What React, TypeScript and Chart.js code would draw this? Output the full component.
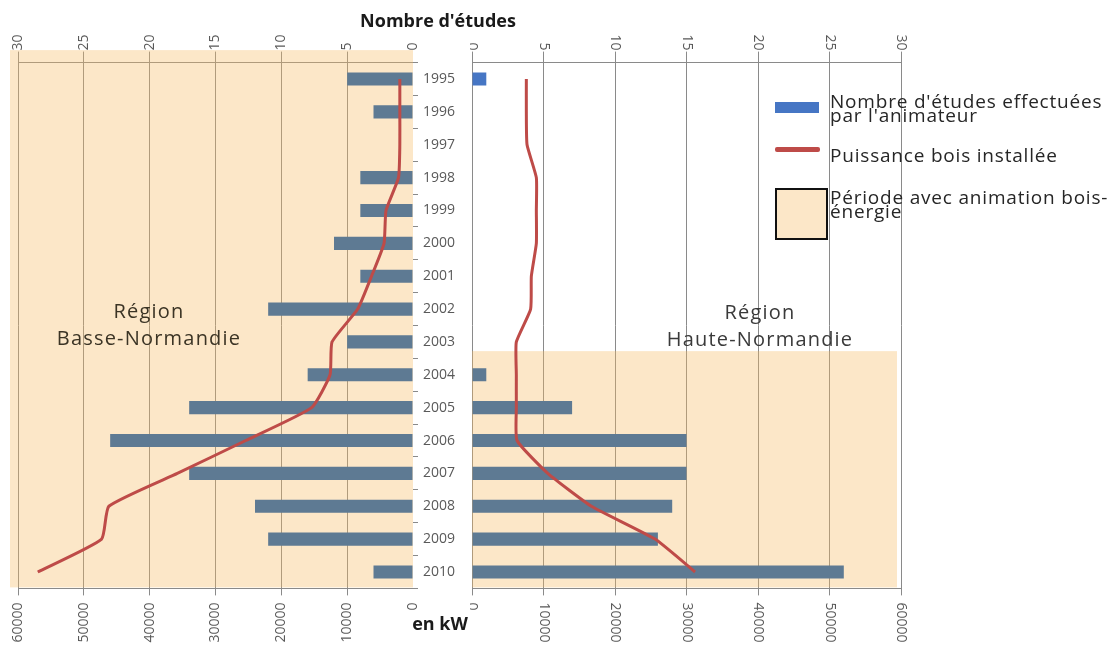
import React, { useEffect, useRef } from 'react';
import { Chart, registerables } from 'chart.js';

Chart.register(...registerables);

// ---------- data ----------
const YEARS = ['1995', '1996', '1997', '1998', '1999', '2000', '2001', '2002', '2003', '2004', '2005', '2006', '2007', '2008', '2009', '2010'];
// Basse-Normandie (left panel)
const BN_STUDIES = [5, 3, 0, 4, 4, 6, 4, 11, 5, 8, 17, 23, 17, 12, 11, 3];
const BN_POWER_KW = [2000, 2000, 2000, 2200, 4100, 4400, 6300, 8400, 12300, 12600, 15400, 25400, 35800, 46200, 47300, 57000];
// Haute-Normandie (right panel)
const HN_STUDIES = [1, 0, 0, 0, 0, 0, 0, 0, 0, 1, 7, 15, 15, 14, 13, 26];
const HN_POWER_KW = [7600, 7600, 7700, 9000, 9000, 9000, 8300, 8200, 6200, 6200, 6200, 6300, 10600, 16700, 25600, 31200];
// animation periods (first year of the shaded period)
const BN_PERIOD_START = '1995';
const HN_PERIOD_START = '2004';
// axes
const STUDIES_MAX = 30;
const STUDIES_STEP = 5;
const KW_MAX = 60000;
const KW_STEP = 10000;

// ---------- styles ----------
const FONT = "'Open Sans', sans-serif";
const GRID = '#8a8a8a';
const TICK_COLOR = '#595959';
const BLUE = '#4676C4';
const SLATE = '#5E7A93';
const RED = '#BE4B48';
const SHADE = 'rgba(246,186,98,0.35)';
const AREA_TOP = 62.6;
const AREA_BOTTOM = 588.4;
const H = 648;

Chart.defaults.font.family = FONT;

function shadePlugin(startLabel: string, topBands: number, extendLeft: number, insetRight: number) {
  return {
    id: 'shade',
    beforeDatasetsDraw(chart: any) {
      const { ctx, chartArea } = chart;
      const y = chart.scales.y;
      const idx = YEARS.indexOf(startLabel);
      const band = y.getPixelForValue(1) - y.getPixelForValue(0);
      const top = y.getPixelForValue(idx) - topBands * band;
      ctx.save();
      ctx.fillStyle = SHADE;
      ctx.fillRect(chartArea.left - extendLeft, top, chartArea.right - insetRight - (chartArea.left - extendLeft), chartArea.bottom - 1 - top);
      ctx.restore();
    },
  };
}

const rotatedTicksPlugin = {
  id: 'rotatedTicks',
  afterDraw(chart: any) {
    const { ctx, chartArea } = chart;
    ctx.save();
    ctx.font = `14px ${FONT}`;
    ctx.fillStyle = TICK_COLOR;
    ctx.textBaseline = 'middle';
    const xb = chart.scales.x;
    xb.ticks.forEach((t: any) => {
      const px = xb.getPixelForValue(t.value);
      ctx.save();
      ctx.translate(px, chartArea.bottom + 14);
      ctx.rotate(Math.PI / 2);
      ctx.textAlign = 'left';
      ctx.fillText(String(t.value), 0, 0);
      ctx.restore();
    });
    const xt = chart.scales.x2;
    xt.ticks.forEach((t: any) => {
      const px = xt.getPixelForValue(t.value);
      ctx.save();
      ctx.translate(px, chartArea.top - 12);
      ctx.rotate(Math.PI / 2);
      ctx.textAlign = 'right';
      ctx.fillText(String(t.value), 0, 0);
      ctx.restore();
    });
    ctx.restore();
  },
};

function datasets(studies: number[], power: number[], startLabel: string) {
  const startIdx = YEARS.indexOf(startLabel);
  return [
    {
      type: 'bar' as const,
      label: "Nombre d'études effectuées par l'animateur",
      data: studies,
      xAxisID: 'x2',
      yAxisID: 'y',
      backgroundColor: (c: any) => (c.dataIndex >= startIdx ? SLATE : BLUE),
      barPercentage: 0.4,
      categoryPercentage: 1,
      order: 2,
    },
    {
      type: 'line' as const,
      label: 'Puissance bois installée',
      data: power,
      xAxisID: 'x',
      yAxisID: 'y',
      indexAxis: 'y' as const,
      borderColor: RED,
      borderWidth: 3,
      pointRadius: 0,
      fill: false,
      tension: 0.15,
      order: 1,
    },
  ];
}

const hideZero = (c: any) => (c.tick && c.tick.value === 0 ? 'rgba(0,0,0,0)' : GRID);

export default function App() {
  const leftRef = useRef<HTMLCanvasElement>(null);
  const rightRef = useRef<HTMLCanvasElement>(null);

  useEffect(() => {
    const tickFont = { family: FONT, size: 14 };
    const left = new Chart(leftRef.current as HTMLCanvasElement, {
      type: 'bar',
      data: { labels: YEARS, datasets: datasets(BN_STUDIES, BN_POWER_KW, BN_PERIOD_START) as any },
      options: {
        indexAxis: 'y',
        responsive: false,
        animation: false,
        layout: { padding: { left: 18, right: 0, top: 0, bottom: 0 } },
        plugins: { legend: { display: false }, tooltip: { enabled: false } },
        scales: {
          x: {
            type: 'linear', position: 'bottom', min: 0, max: KW_MAX, reverse: true,
            ticks: { stepSize: KW_STEP, minRotation: 90, maxRotation: 90, autoSkip: false, padding: 7, font: tickFont, color: TICK_COLOR, callback: (v: any) => String(v) },
            grid: { color: hideZero, tickLength: 7, lineWidth: 1 },
            border: { display: true, color: GRID },
            afterFit: (s: any) => { s.height = H - AREA_BOTTOM; },
          },
          x2: {
            type: 'linear', position: 'top', min: 0, max: STUDIES_MAX, reverse: true,
            ticks: { stepSize: STUDIES_STEP, minRotation: 90, maxRotation: 90, autoSkip: false, padding: 1, labelOffset: 16.8, font: tickFont, color: TICK_COLOR, callback: (v: any) => String(v) },
            grid: { drawOnChartArea: false, color: hideZero, tickLength: 11 },
            border: { display: true, color: GRID },
            afterFit: (s: any) => { s.height = AREA_TOP; },
          },
          y: {
            type: 'category', position: 'right', offset: true,
            grid: { offset: true, drawOnChartArea: false, tickLength: 5, color: GRID },
            border: { display: false },
            ticks: { font: tickFont, color: TICK_COLOR, padding: 5, autoSkip: false },
            afterFit: (s: any) => { s.width = 57; },
          },
        },
      } as any,
      plugins: [shadePlugin(BN_PERIOD_START, 0.88, 8, 0)],
    });

    const right = new Chart(rightRef.current as HTMLCanvasElement, {
      type: 'bar',
      data: { labels: YEARS, datasets: datasets(HN_STUDIES, HN_POWER_KW, HN_PERIOD_START) as any },
      options: {
        indexAxis: 'y',
        responsive: false,
        animation: false,
        layout: { padding: { left: 2, right: 211, top: 0, bottom: 0 } },
        plugins: { legend: { display: false }, tooltip: { enabled: false } },
        scales: {
          x: {
            type: 'linear', position: 'bottom', min: 0, max: KW_MAX,
            ticks: { display: false, stepSize: KW_STEP },
            grid: { color: GRID, tickLength: 7, lineWidth: 1 },
            border: { display: true, color: GRID },
            afterFit: (s: any) => { s.height = H - AREA_BOTTOM; },
          },
          x2: {
            type: 'linear', position: 'top', min: 0, max: STUDIES_MAX,
            ticks: { display: false, stepSize: STUDIES_STEP },
            grid: { drawOnChartArea: false, color: GRID, tickLength: 11 },
            border: { display: true, color: GRID },
            afterFit: (s: any) => { s.height = AREA_TOP; },
          },
          y: { type: 'category', display: false, offset: true, grid: { offset: true } },
        },
      } as any,
      plugins: [shadePlugin(HN_PERIOD_START, 0.72, 0, 4), rotatedTicksPlugin],
    });

    return () => { left.destroy(); right.destroy(); };
  }, []);

  const legendText: React.CSSProperties = {
    position: 'absolute', left: 830, fontSize: 19, lineHeight: '14px', letterSpacing: '0.8px', color: '#262626', whiteSpace: 'nowrap',
  };
  const region: React.CSSProperties = {
    position: 'absolute', width: 240, textAlign: 'center', fontSize: 20, lineHeight: '27px', letterSpacing: '1.2px', whiteSpace: 'nowrap',
  };
  const title: React.CSSProperties = {
    position: 'absolute', width: 240, textAlign: 'center', fontSize: 18, lineHeight: '18px', fontWeight: 700, color: '#1a1a1a', whiteSpace: 'nowrap',
  };

  return (
    <div style={{ position: 'absolute', left: 0, top: 0, width: 1112, height: H, background: '#fff', overflow: 'hidden', fontFamily: FONT }}>
      <canvas ref={leftRef} width={470} height={H} style={{ position: 'absolute', left: 0, top: 0 }} />
      <canvas ref={rightRef} width={642} height={H} style={{ position: 'absolute', left: 470, top: 0 }} />

      <div style={{ ...title, left: 318, top: 11 }}>Nombre d'études</div>
      <div style={{ ...title, left: 320, top: 614 }}>en kW</div>

      <div style={{ ...region, left: 29, top: 297, color: '#3b3425' }}>Région<br />Basse-Normandie</div>
      <div style={{ ...region, left: 640, top: 298, color: '#3a3a3a' }}>Région<br />Haute-Normandie</div>

      <div style={{ position: 'absolute', left: 775, top: 102, width: 44, height: 11, background: BLUE }} />
      <div style={{ ...legendText, top: 94 }}>Nombre d'études effectuées<br />par l'animateur</div>
      <div style={{ position: 'absolute', left: 775, top: 147, width: 45, height: 5, background: RED, borderRadius: 2 }} />
      <div style={{ ...legendText, top: 148 }}>Puissance bois installée</div>
      <div style={{ position: 'absolute', left: 775, top: 188, width: 49, height: 48, background: '#FCE7C8', border: '2px solid #111' }} />
      <div style={{ ...legendText, top: 190 }}>Période avec animation bois-<br />énergie</div>
    </div>
  );
}
